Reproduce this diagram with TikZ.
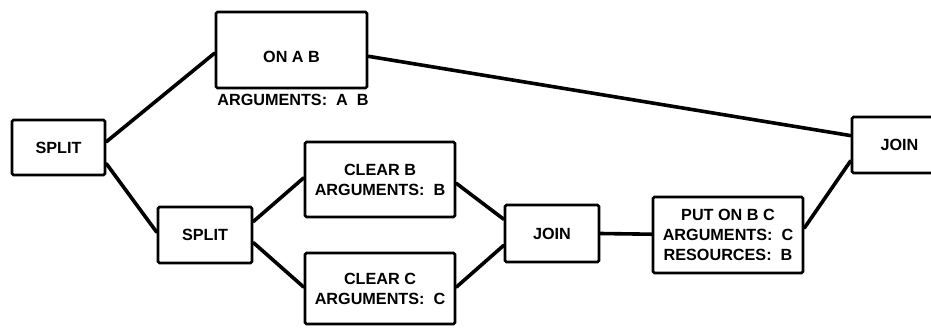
\documentclass[tikz,border=0pt]{standalone}
\usepackage{fontspec}
\setmainfont{Liberation Sans}
\usetikzlibrary{calc}
\tikzset{
  box/.style={draw=black, line width=2.8pt, rounded corners=1.5pt, inner sep=0pt, align=center,
    font=\bfseries\fontsize{16.2}{20}\selectfont},
  txt/.style={inner sep=0pt, align=center, font=\bfseries\fontsize{16.2}{20}\selectfont},
  conn/.style={draw=black, line width=3.6pt, line cap=round}
}
\begin{document}
\begin{tikzpicture}[x=1pt,y=-1pt]
\useasboundingbox (0,0) rectangle (931,327);
\clip (0,0) rectangle (931,327);
\node[box, minimum width=93pt, minimum height=55pt] (split1) at (58.5,147.5) {SPLIT};
\node[box, minimum width=151pt, minimum height=76pt] (onab) at (291.5,50) {};
\node[txt] (onabt) at (291.5,57) {ON A B};
\node[txt] (onabarg) at (293,100) {ARGUMENTS:\ \ A\ \ B};
\node[box, minimum width=94pt, minimum height=56pt] (split2) at (205,235) {SPLIT};
\node[box, minimum width=150pt, minimum height=75pt] (clearb) at (380,179.5) {CLEAR B\\ARGUMENTS:\ \ B};
\node[box, minimum width=150pt, minimum height=71pt] (clearc) at (380,288.5) {CLEAR C\\ARGUMENTS:\ \ C};
\node[box, minimum width=94pt, minimum height=57pt] (join1) at (552,233.5) {JOIN};
\node[box, minimum width=150pt, minimum height=76pt] (puton) at (728,235) {PUT ON B C\\ARGUMENTS:\ \ C\\RESOURCES:\ \ B};
\node[box, minimum width=95pt, minimum height=56pt] (join2) at (899.5,145) {JOIN};
\draw[conn] ($(split1.north east)!0.40!(split1.south east)$) -- ($(onab.north west)!0.54!(onab.south west)$);
\draw[conn] ($(split1.north east)!0.78!(split1.south east)$) -- ($(split2.north west)!0.45!(split2.south west)$);
\draw[conn] ($(split2.north east)!0.27!(split2.south east)$) -- ($(clearb.north west)!0.48!(clearb.south west)$);
\draw[conn] ($(split2.north east)!0.63!(split2.south east)$) -- ($(clearc.north west)!0.48!(clearc.south west)$);
\draw[conn] ($(clearb.north east)!0.55!(clearb.south east)$) -- ($(join1.north west)!0.26!(join1.south west)$);
\draw[conn] ($(clearc.north east)!0.48!(clearc.south east)$) -- ($(join1.north west)!0.70!(join1.south west)$);
\draw[conn] ($(join1.north east)!0.50!(join1.south east)$) -- ($(puton.north west)!0.49!(puton.south west)$);
\draw[conn] ($(puton.north east)!0.41!(puton.south east)$) -- ($(join2.north west)!0.77!(join2.south west)$);
\draw[conn] ($(onab.north east)!0.58!(onab.south east)$) -- ($(join2.north west)!0.34!(join2.south west)$);
\end{tikzpicture}
\end{document}
